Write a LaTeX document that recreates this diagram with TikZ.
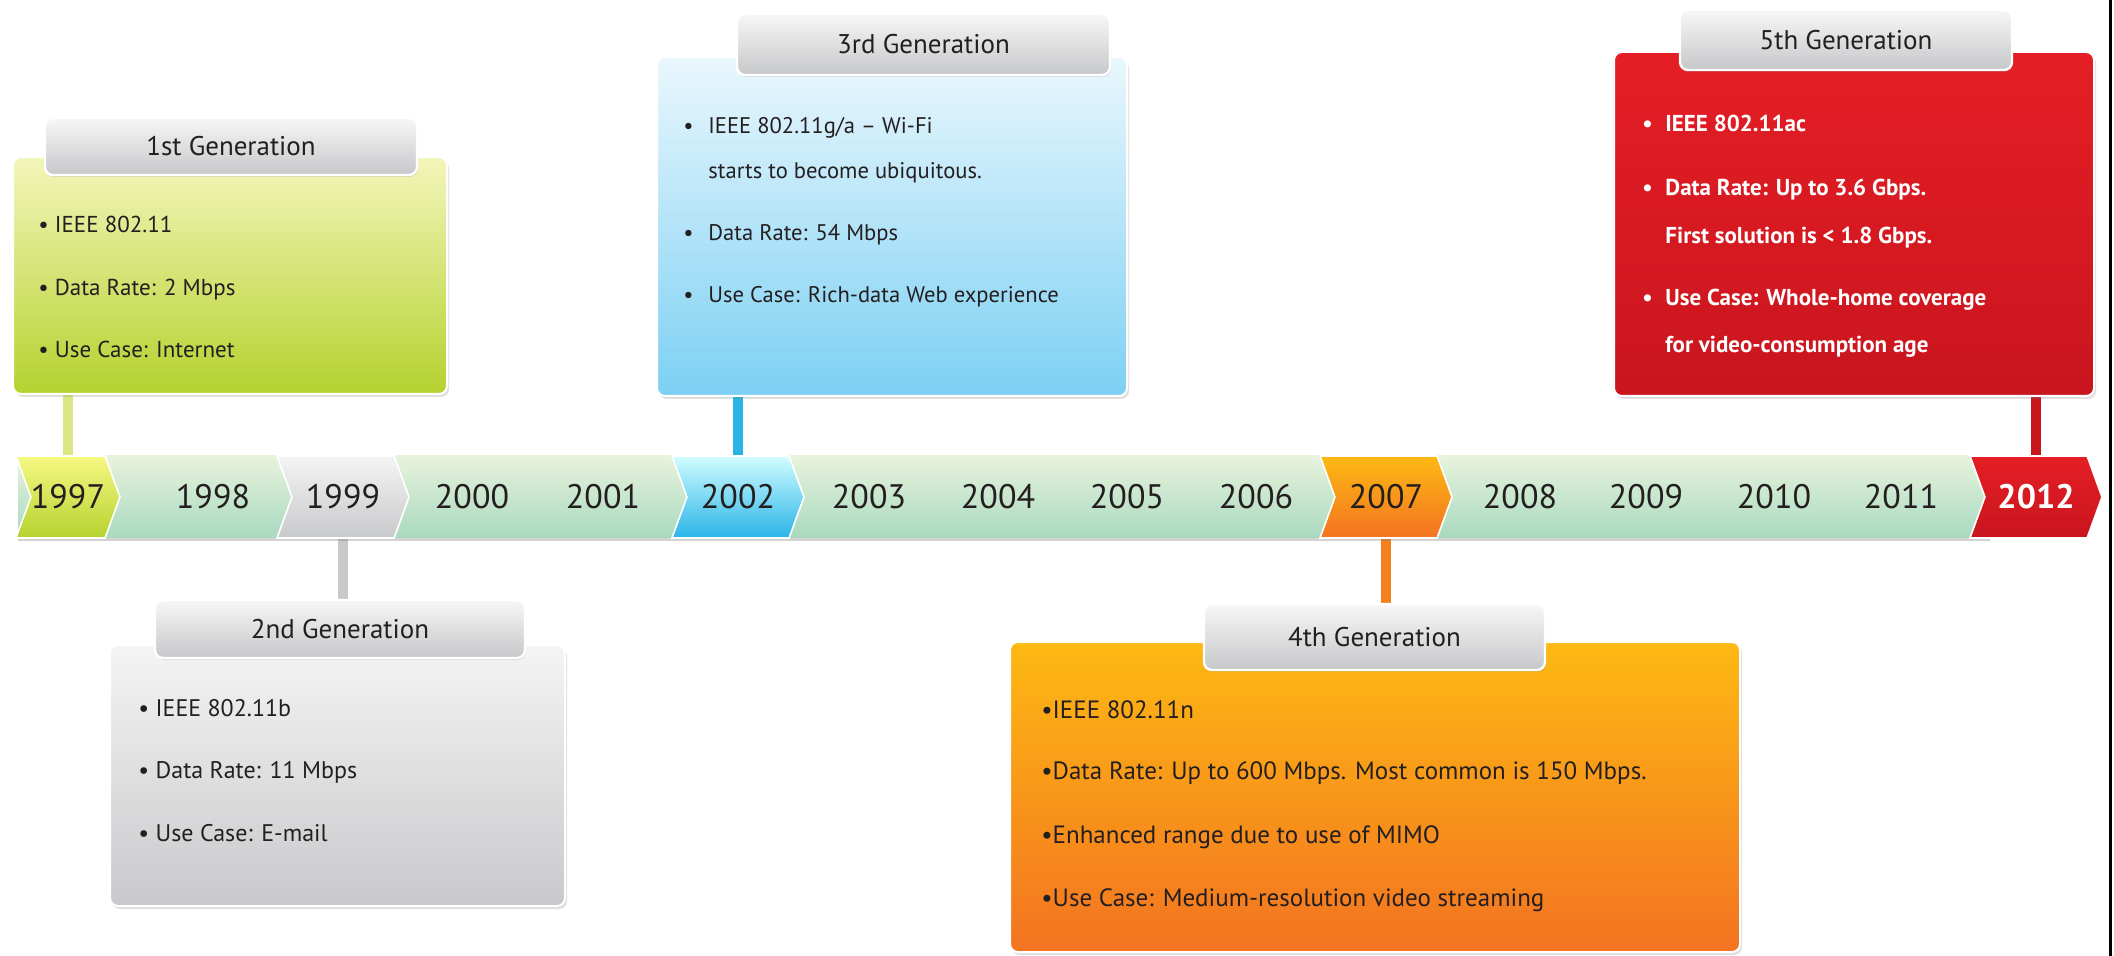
\documentclass[tikz,border=0pt]{standalone}
\usepackage{fontspec}
\setmainfont{PT Sans}
\usetikzlibrary{positioning,shapes.symbols,shadows,backgrounds}

\definecolor{bandtop}{HTML}{E8F3DC}
\definecolor{bandbot}{HTML}{A9D9C0}
\definecolor{inktext}{HTML}{231F20}
\definecolor{tabtop}{HTML}{F7F7F7}
\definecolor{tabbot}{HTML}{C6C7C9}
\definecolor{greentop}{HTML}{F3F5BA}
\definecolor{greenbot}{HTML}{B5D22F}
\definecolor{greytop}{HTML}{F4F4F4}
\definecolor{greybot}{HTML}{C8C9CB}
\definecolor{bluetop}{HTML}{EAF7FD}
\definecolor{bluebot}{HTML}{7CD0F3}
\definecolor{bluestem}{HTML}{29B4E8}
\definecolor{orangetop}{HTML}{FDB913}
\definecolor{orangebot}{HTML}{F37321}
\definecolor{redtop}{HTML}{E51E25}
\definecolor{redbot}{HTML}{C9151E}

\begin{document}
\begin{tikzpicture}[x=0.5pt, y=-0.5pt,
  genbox/.style={rectangle, rounded corners=4pt, draw=white, line width=1pt,
                 drop shadow={opacity=0.25, shadow xshift=1pt, shadow yshift=-1.5pt}},
  tab/.style={rectangle, rounded corners=4pt, draw=white, line width=1.2pt,
              top color=tabtop, bottom color=tabbot, text=inktext,
              font=\fontsize{13.5}{16}\selectfont,
              drop shadow={opacity=0.2, shadow xshift=0.5pt, shadow yshift=-1pt}},
  item/.style={anchor=west, inner sep=0pt, text height=1.5ex, text depth=.3ex, text=inktext},
  year/.style={font=\fontsize{17}{20}\selectfont, text=inktext, inner sep=0pt},
  chev/.style={signal, signal from=west, signal to=east, signal pointer angle=140,
               minimum width=66pt, minimum height=41pt, inner sep=0pt, draw=white,
               line width=0.8pt, font=\fontsize{17}{20}\selectfont, text=inktext},
  stem/.style={line width=5pt},
]
\useasboundingbox (0,0) rectangle (2114,956);

%% timeline band
\fill[top color=bandtop, bottom color=bandbot,
      drop shadow={opacity=0.35, shadow xshift=0pt, shadow yshift=-1.5pt}]
  (18,456) rectangle (1990,538);
\foreach \yr/\xx in {1998/213, 2000/472, 2001/603, 2003/869, 2004/998, 2005/1127,
    2006/1256, 2008/1520, 2009/1646, 2010/1774, 2011/1901}
  \node[year] (y\yr) at (\xx,497) {\yr};

%% highlighted years
\node[chev, minimum width=52pt, top color=greentop!70!yellow, bottom color=greenbot]
  (y1997) at (68,497) {1997};
\node[chev, top color=greytop, bottom color=greybot]    (y1999) at (343,497) {1999};
\node[chev, top color=bluetop!60!cyan!40, bottom color=bluestem] (y2002) at (738,497) {2002};
\node[chev, top color=orangetop, bottom color=orangebot] (y2007) at (1386,497) {2007};
\node[chev, top color=redtop, bottom color=redbot, text=white,
      font=\fontsize{17}{20}\selectfont\bfseries] (y2012) at (2036,497) {2012};

%% generation boxes
\node[genbox, top color=greentop, bottom color=greenbot,
      minimum width=217pt, minimum height=118.5pt] (b1) at (230,275.5) {};
\node[tab, minimum width=186pt, minimum height=28.5pt] (t1) at (231,146.5) {1st Generation};
\node[genbox, top color=greytop, bottom color=greybot,
      minimum width=227.5pt, minimum height=130.5pt] (b2) at (337.5,775.5) {};
\node[tab, minimum width=185pt, minimum height=29pt] (t2) at (340,629) {2nd Generation};
\node[genbox, top color=bluetop, bottom color=bluebot,
      minimum width=235pt, minimum height=169.5pt] (b3) at (892,226.5) {};
\node[tab, minimum width=186.5pt, minimum height=30.5pt] (t3) at (923.5,44.5) {3rd Generation};
\node[genbox, top color=orangetop, bottom color=orangebot,
      minimum width=365pt, minimum height=155pt] (b4) at (1375,797) {};
\node[tab, minimum width=170.5pt, minimum height=33pt] (t4) at (1374.5,637) {4th Generation};
\node[genbox, top color=redtop, bottom color=redbot,
      minimum width=240pt, minimum height=172pt] (b5) at (1854,224) {};
\node[tab, minimum width=166pt, minimum height=30pt] (t5) at (1846,40) {5th Generation};

%% box texts
\foreach \ty/\txt in {227/IEEE 802.11, 290/Data Rate: 2 Mbps, 352/Use Case: Internet}
  \node[item, font=\fontsize{11.5}{14}\selectfont] at (38,\ty) {\textbullet\ \txt};
\foreach \ty/\txt in {710/IEEE 802.11b, 772/Data Rate: 11 Mbps, 835/Use Case: E-mail}
  \node[item, font=\fontsize{12}{14}\selectfont] at (138,\ty) {\textbullet\ \txt};
\foreach \ty/\bul/\txt in {128/\textbullet/{IEEE 802.11g/a – Wi-Fi}, 173//{starts to become ubiquitous.},
    235/\textbullet/{Data Rate: 54 Mbps}, 297/\textbullet/{Use Case: Rich-data Web  experience}}
  \node[item, font=\fontsize{11.3}{14}\selectfont] at (683,\ty) {\makebox[12.5pt][l]{\bul}\txt};
\foreach \ty/\txt in {712/IEEE 802.11n, 773/Data Rate: Up to 600 Mbps. Most common is 150 Mbps.,
    837/Enhanced range due to use of MIMO, 900/Use Case: Medium-resolution video streaming}
  \node[item, font=\fontsize{12.5}{14}\selectfont] at (1041,\ty) {\textbullet\txt};
\foreach \ty/\bul/\txt in {126/\textbullet/{IEEE 802.11ac}, 190/\textbullet/{Data Rate: Up to 3.6 Gbps.},
    238//{First solution is < 1.8 Gbps.}, 300/\textbullet/{Use Case: Whole-home coverage},
    347//{for video-consumption age}}
  \node[item, text=white, font=\fontsize{11.5}{14}\selectfont\bfseries] at (1642,\ty)
    {\makebox[11.5pt][l]{\bul}\txt};

%% stems from boxes to years
\begin{scope}[on background layer]
\draw[stem, draw=greentop!60!greenbot]   (y1997.north) -- (y1997.north |- b1.south);
\draw[stem, draw=greybot]                (y1999.south) -- (y1999.south |- t2.north);
\draw[stem, draw=bluestem]               (y2002.north) -- (y2002.north |- b3.south);
\draw[stem, draw=orangebot!80!orangetop] (y2007.south) -- (y2007.south |- t4.north);
\draw[stem, draw=redbot]                 (y2012.north) -- (y2012.north |- b5.south);
\end{scope}

%% right frame edge
\draw[line width=1.5pt] (2110,0) -- (2110,956);
\end{tikzpicture}
\end{document}
